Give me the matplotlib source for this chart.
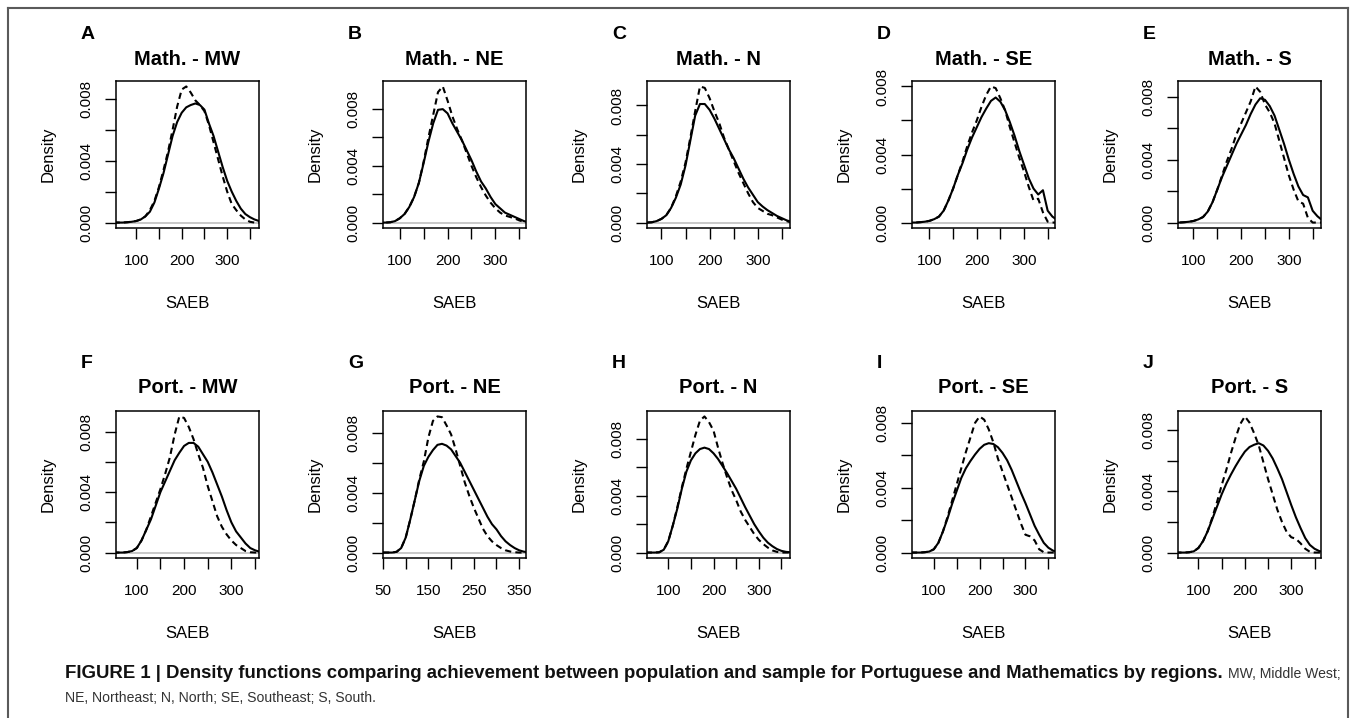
import matplotlib
matplotlib.use('Agg')
import matplotlib.pyplot as plt
import matplotlib.ticker as ticker
from matplotlib.lines import Line2D

W, H = 1357, 718
DPI = 100

plt.rcParams['font.family'] = ['Liberation Sans', 'DejaVu Sans']

# SAEB score grid shared by every curve; densities are stored as density x 1000
SAEB_GRID = [50, 60, 70, 80, 90, 100, 110, 120, 130, 140, 150, 160, 170,
             180, 190, 200, 210, 220, 230, 240, 250, 260, 270, 280, 290,
             300, 310, 320, 330, 340, 350, 360, 370]

# Mathematics, population (solid) and sample (dashed)
math_mw_pop = [0, 0, 0, .02, .05, .1, .2, .4, .7, 1.3, 2.2, 3.2, 4.4, 5.6, 6.5, 7.1, 7.45,
               7.6, 7.7, 7.6, 7.3, 6.4, 5.6, 4.6, 3.6, 2.7, 2.0, 1.4, 0.9, 0.55, 0.35, 0.2, 0.1]
math_mw_smp = [0, 0, 0, .02, .05, .1, .2, .4, .8, 1.4, 2.3, 3.4, 4.6, 6.0, 7.5, 8.6, 8.8,
               8.4, 7.9, 7.6, 7.2, 6.3, 5.2, 4.1, 3.0, 2.0, 1.2, 0.8, 0.45, 0.2, 0.05, 0, 0]
math_ne_pop = [0, 0, 0, .02, .1, .3, .6, 1.1, 1.8, 2.8, 4.2, 5.7, 7.0, 7.95, 8.0, 7.7, 7.0,
               6.4, 5.8, 5.1, 4.4, 3.6, 2.9, 2.4, 1.8, 1.3, 1.0, 0.7, 0.55, 0.4, 0.25, 0.1, 0.03]
math_ne_smp = [0, 0, 0, .02, .1, .3, .6, 1.1, 1.8, 2.8, 4.3, 6.0, 7.6, 9.2, 9.6, 8.6, 7.5,
               6.6, 5.8, 4.9, 4.0, 3.2, 2.5, 1.9, 1.4, 1.0, 0.7, 0.5, 0.4, 0.3, 0.15, 0.05, 0]
math_n_pop = [0, 0, 0, .02, .1, .25, .5, 1.0, 1.7, 2.6, 3.9, 5.6, 7.3, 8.1, 8.1, 7.7, 7.1,
              6.4, 5.7, 5.0, 4.4, 3.7, 3.0, 2.4, 1.9, 1.4, 1.1, 0.85, 0.65, 0.45, 0.3, 0.15, 0.05]
math_n_smp = [0, 0, 0, .02, .1, .25, .5, 1.0, 1.8, 2.8, 4.1, 5.8, 7.6, 9.3, 9.2, 8.5, 7.6,
              6.8, 5.8, 5.0, 4.2, 3.4, 2.7, 2.0, 1.4, 1.0, 0.8, 0.6, 0.5, 0.35, 0.2, 0.1, 0]
math_se_pop = [0, 0, 0, .02, .05, .1, .2, .35, .7, 1.3, 2.0, 2.8, 3.5, 4.3, 5.0, 5.6, 6.2,
               6.7, 7.15, 7.35, 7.1, 6.6, 5.9, 5.1, 4.2, 3.4, 2.6, 2.0, 1.65, 1.9, 0.7, 0.35, 0.15]
math_se_smp = [0, 0, 0, .02, .05, .1, .2, .35, .7, 1.3, 2.0, 2.8, 3.6, 4.5, 5.3, 6.0, 6.8,
               7.5, 8.0, 7.9, 7.3, 6.6, 5.6, 4.7, 3.8, 3.0, 2.1, 1.3, 1.4, 0.6, 0.05, 0, 0]
math_s_pop = [0, 0, 0, .02, .05, .1, .2, .35, .7, 1.3, 2.1, 2.9, 3.6, 4.3, 5.0, 5.6, 6.2,
              6.9, 7.5, 7.9, 7.8, 7.4, 6.8, 5.9, 5.0, 4.0, 3.1, 2.3, 1.75, 1.6, 0.75, 0.4, 0.15]
math_s_smp = [0, 0, 0, .02, .05, .1, .2, .35, .7, 1.3, 2.1, 3.0, 3.9, 4.7, 5.6, 6.3, 7.0,
              7.7, 8.65, 8.3, 7.5, 7.0, 6.3, 5.2, 4.1, 3.0, 2.1, 1.35, 1.2, 0.3, 0, 0, 0]

# Portuguese, population (solid) and sample (dashed)
port_mw_pop = [0, 0, 0, .03, .1, .3, .8, 1.5, 2.2, 3.1, 4.0, 4.7, 5.4, 6.1, 6.6, 7.05, 7.25,
               7.25, 7.0, 6.5, 6.0, 5.3, 4.5, 3.7, 2.8, 2.0, 1.4, 1.0, 0.6, 0.3, 0.15, 0.05, 0]
port_mw_smp = [0, 0, 0, .03, .1, .3, .8, 1.5, 2.4, 3.3, 4.2, 5.2, 6.3, 7.8, 9.0, 8.9, 8.3,
               7.5, 6.5, 5.6, 4.4, 3.4, 2.4, 1.7, 1.2, 0.8, 0.5, 0.3, 0.1, 0.02, 0, 0, 0]
port_ne_pop = [0, 0, 0, .05, .3, 1.0, 2.2, 3.5, 4.8, 5.8, 6.4, 6.85, 7.2, 7.27, 7.15, 6.9, 6.45,
               6.0, 5.4, 4.8, 4.2, 3.6, 3.0, 2.4, 1.9, 1.55, 1.1, 0.75, 0.5, 0.3, 0.15, 0.06, 0.02]
port_ne_smp = [0, 0, 0, .05, .3, 1.0, 2.2, 3.5, 4.9, 6.1, 7.7, 8.8, 9.1, 9.05, 8.5, 7.9, 6.9,
               5.8, 4.7, 3.8, 3.0, 2.3, 1.6, 1.1, 0.75, 0.5, 0.3, 0.15, 0.07, 0.02, 0, 0, 0]
port_n_pop = [0, 0, 0, .02, .2, .8, 1.9, 3.1, 4.5, 5.7, 6.5, 7.0, 7.3, 7.4, 7.3, 7.0, 6.6,
              6.1, 5.6, 5.05, 4.5, 3.85, 3.2, 2.6, 2.0, 1.5, 1.05, 0.7, 0.45, 0.25, 0.12, 0.05, 0.02]
port_n_smp = [0, 0, 0, .02, .2, .8, 1.9, 3.2, 4.6, 5.9, 7.1, 8.3, 9.3, 9.6, 9.2, 8.6, 7.4,
              6.3, 5.3, 4.4, 3.7, 2.9, 2.3, 1.8, 1.3, 0.9, 0.6, 0.35, 0.15, 0.05, 0, 0, 0]
port_se_pop = [0, 0, 0, .02, .06, .2, .6, 1.3, 2.1, 3.0, 3.8, 4.6, 5.2, 5.65, 6.05, 6.4, 6.65,
               6.75, 6.7, 6.5, 6.15, 5.7, 5.1, 4.4, 3.7, 3.05, 2.35, 1.65, 1.1, 0.6, 0.3, 0.12, 0.04]
port_se_smp = [0, 0, 0, .02, .06, .2, .6, 1.3, 2.2, 3.2, 4.2, 5.2, 6.2, 7.1, 8.0, 8.4, 8.2,
               7.6, 6.8, 5.8, 5.0, 4.2, 3.4, 2.6, 1.8, 1.1, 1.0, 0.75, 0.2, 0.02, 0, 0, 0]
port_s_pop = [0, 0, 0, .02, .08, .3, .75, 1.4, 2.2, 3.0, 3.8, 4.5, 5.1, 5.65, 6.15, 6.6, 6.9,
              7.05, 7.15, 7.0, 6.65, 6.15, 5.5, 4.8, 3.95, 3.1, 2.3, 1.6, 0.95, 0.5, 0.25, 0.1, 0.03]
port_s_smp = [0, 0, 0, .02, .08, .3, .75, 1.4, 2.3, 3.3, 4.4, 5.4, 6.5, 7.5, 8.4, 8.9, 8.5,
              7.8, 7.0, 5.9, 4.8, 3.8, 2.8, 2.0, 1.35, 1.0, 0.9, 0.6, 0.25, 0.05, 0, 0, 0]

PANEL_LETTERS = ['A', 'B', 'C', 'D', 'E', 'F', 'G', 'H', 'I', 'J']
PANEL_TITLES = ['Math. - MW', 'Math. - NE', 'Math. - N', 'Math. - SE', 'Math. - S',
                'Port. - MW', 'Port. - NE', 'Port. - N', 'Port. - SE', 'Port. - S']
POP_CURVES = [math_mw_pop, math_ne_pop, math_n_pop, math_se_pop, math_s_pop,
              port_mw_pop, port_ne_pop, port_n_pop, port_se_pop, port_s_pop]
SMP_CURVES = [math_mw_smp, math_ne_smp, math_n_smp, math_se_smp, math_s_smp,
              port_mw_smp, port_ne_smp, port_n_smp, port_se_smp, port_s_smp]
X_RANGES = [(55.5, 370), (65, 364), (70, 367), (63, 365.5), (67.5, 367.5),
            (56, 358.5), (50, 365), (53, 369), (52.5, 364.5), (56, 364)]
X_TICKS_STD = [100, 150, 200, 250, 300, 350]
X_LABELS_STD = ['100', '', '200', '', '300', '']
X_TICKS_WIDE = [50, 100, 150, 200, 250, 300, 350]
X_LABELS_WIDE = ['50', '', '150', '', '250', '', '350']
Y_TICKS = [0.0, 0.002, 0.004, 0.006, 0.008]
Y_TICK_LABELS = ['0.000', '', '0.004', '', '0.008']

CAPTION_BOLD = ('FIGURE 1 | Density functions comparing achievement between population '
                'and sample for Portuguese and Mathematics by regions.')
CAPTION_REST_1 = 'MW, Middle West;'
CAPTION_REST_2 = 'NE, Northeast; N, North; SE, Southeast; S, South.'
CAPTION_FONT = ['Liberation Sans Narrow', 'Liberation Sans', 'DejaVu Sans']

# layout in pixels of the reference
AX_LEFTS = [116, 383, 647, 912, 1178]
AX_TOPS = [81, 411]
AX_W, AX_H = 143, 147


def fx(px):
    return px / W


def fy(py):
    return 1 - py / H


def draw_panel(fig, idx):
    row, col = divmod(idx, 5)
    left, top = AX_LEFTS[col], AX_TOPS[row]
    ax = fig.add_axes([fx(left), fy(top + AX_H), AX_W / W, AX_H / H])

    pop = [v / 1000 for v in POP_CURVES[idx]]
    smp = [v / 1000 for v in SMP_CURVES[idx]]
    ax.axhline(0, color='#c4c4c4', lw=1.3, zorder=1)
    ax.plot(SAEB_GRID, pop, color='black', lw=1.5, zorder=3)
    ax.plot(SAEB_GRID, smp, color='black', lw=1.5, ls=(0, (3, 2)), zorder=3)

    m = max(max(pop), max(smp))
    ax.set_ylim(-0.04 * m, 1.04 * m)
    ax.set_xlim(*X_RANGES[idx])

    if X_RANGES[idx][0] <= 50:
        ax.set_xticks(X_TICKS_WIDE)
        ax.set_xticklabels(X_LABELS_WIDE)
    else:
        ax.set_xticks(X_TICKS_STD)
        ax.set_xticklabels(X_LABELS_STD)
    ax.yaxis.set_major_locator(ticker.FixedLocator(Y_TICKS))
    ax.set_yticklabels(Y_TICK_LABELS)

    ax.tick_params(axis='both', direction='out', length=8, width=1.0,
                   labelsize=11, colors='black')
    ax.tick_params(axis='x', pad=10.5)
    ax.tick_params(axis='y', pad=8, labelrotation=90)
    for lab in ax.get_yticklabels():
        lab.set_va('center')
    for sp in ax.spines.values():
        sp.set_linewidth(1.1)

    cx = left + AX_W / 2
    title_base = 65 if row == 0 else 393
    letter_base = 39 if row == 0 else 367.5
    fig.text(fx(cx), fy(title_base), PANEL_TITLES[idx], ha='center',
             va='baseline', fontsize=14.5, fontweight='bold')
    fig.text(fx(left - 35), fy(letter_base), PANEL_LETTERS[idx], ha='left',
             va='baseline', fontsize=14, fontweight='bold')
    fig.text(fx(left - 68), fy(top + AX_H / 2), 'Density', rotation=90,
             ha='center', va='center', fontsize=12)
    fig.text(fx(cx), fy(top + AX_H + 80), 'SAEB', ha='center',
             va='baseline', fontsize=12)


def fit_width(fig, txt, target_px):
    # scale a text's font size so that it spans target_px pixels
    renderer = fig.canvas.get_renderer()
    size = txt.get_fontsize()
    width = txt.get_window_extent(renderer).width
    txt.set_fontsize(size * target_px / width)
    return txt.get_window_extent(renderer)


def draw_caption(fig):
    fig.canvas.draw()
    bold = fig.text(fx(65), fy(678), CAPTION_BOLD, fontsize=10, family=CAPTION_FONT,
                    fontweight='bold', va='baseline', color='#111111')
    bb = fit_width(fig, bold, 1160)
    line2 = fig.text(fx(65), fy(702), CAPTION_REST_2, fontsize=10, family=CAPTION_FONT,
                     va='baseline', color='#333333')
    fit_width(fig, line2, 310)
    fig.text((bb.x1 + 5) / W, fy(678), CAPTION_REST_1, family=CAPTION_FONT,
             fontsize=line2.get_fontsize(), va='baseline', color='#333333')


def draw_frame(fig):
    col = '#5a5a5a'
    fig.add_artist(Line2D([fx(8), fx(8)], [fy(8), fy(718)], color=col, lw=1.5,
                          transform=fig.transFigure))
    fig.add_artist(Line2D([fx(8), fx(1348)], [fy(8), fy(8)], color=col, lw=1.5,
                          transform=fig.transFigure))
    fig.add_artist(Line2D([fx(1348), fx(1348)], [fy(8), fy(718)], color=col, lw=1.5,
                          transform=fig.transFigure))


def main():
    fig = plt.figure(figsize=(W / DPI, H / DPI), dpi=DPI)
    fig.patch.set_facecolor('white')
    for idx in range(len(PANEL_TITLES)):
        draw_panel(fig, idx)
    draw_frame(fig)
    draw_caption(fig)
    fig.savefig('out.png', dpi=DPI)
    plt.close(fig)


if __name__ == '__main__':
    main()
